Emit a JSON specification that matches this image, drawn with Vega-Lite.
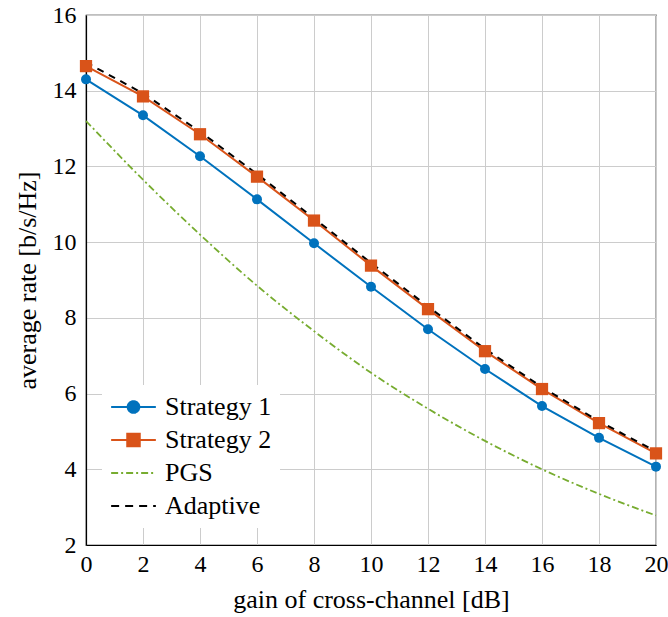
{
  "$schema": "https://vega.github.io/schema/vega-lite/v6.json",
  "width": 570,
  "height": 530,
  "autosize": "none",
  "padding": {"left": 86, "top": 15, "right": 12, "bottom": 72},
  "background": "white",
  "config": {
    "view": {"stroke": "black", "strokeWidth": 1.2},
    "font": "Liberation Serif",
    "axis": {
      "labelFont": "Liberation Serif",
      "titleFont": "Liberation Serif",
      "labelFontSize": 24,
      "titleFontSize": 26,
      "titleFontWeight": "normal",
      "labelColor": "black",
      "titleColor": "black",
      "gridColor": "#cccccc",
      "gridWidth": 1,
      "domainColor": "black",
      "domainWidth": 1.2,
      "ticks": false
    },
    "legend": {
      "labelFont": "Liberation Serif",
      "labelFontSize": 26,
      "labelColor": "black"
    }
  },
  "data": {
    "values": [
      {"x": 0, "y": 14.3, "series": "Strategy 1"},
      {"x": 2, "y": 13.35, "series": "Strategy 1"},
      {"x": 4, "y": 12.27, "series": "Strategy 1"},
      {"x": 6, "y": 11.13, "series": "Strategy 1"},
      {"x": 8, "y": 9.97, "series": "Strategy 1"},
      {"x": 10, "y": 8.82, "series": "Strategy 1"},
      {"x": 12, "y": 7.7, "series": "Strategy 1"},
      {"x": 14, "y": 6.65, "series": "Strategy 1"},
      {"x": 16, "y": 5.67, "series": "Strategy 1"},
      {"x": 18, "y": 4.83, "series": "Strategy 1"},
      {"x": 20, "y": 4.07, "series": "Strategy 1"},
      {"x": 0, "y": 14.65, "series": "Strategy 2"},
      {"x": 2, "y": 13.85, "series": "Strategy 2"},
      {"x": 4, "y": 12.85, "series": "Strategy 2"},
      {"x": 6, "y": 11.73, "series": "Strategy 2"},
      {"x": 8, "y": 10.57, "series": "Strategy 2"},
      {"x": 10, "y": 9.38, "series": "Strategy 2"},
      {"x": 12, "y": 8.23, "series": "Strategy 2"},
      {"x": 14, "y": 7.12, "series": "Strategy 2"},
      {"x": 16, "y": 6.12, "series": "Strategy 2"},
      {"x": 18, "y": 5.22, "series": "Strategy 2"},
      {"x": 20, "y": 4.42, "series": "Strategy 2"},
      {"x": 0, "y": 13.2, "series": "PGS"},
      {"x": 2, "y": 11.65, "series": "PGS"},
      {"x": 4, "y": 10.2, "series": "PGS"},
      {"x": 6, "y": 8.85, "series": "PGS"},
      {"x": 8, "y": 7.65, "series": "PGS"},
      {"x": 10, "y": 6.55, "series": "PGS"},
      {"x": 12, "y": 5.6, "series": "PGS"},
      {"x": 14, "y": 4.75, "series": "PGS"},
      {"x": 16, "y": 4.0, "series": "PGS"},
      {"x": 18, "y": 3.35, "series": "PGS"},
      {"x": 20, "y": 2.78, "series": "PGS"},
      {"x": 0, "y": 14.75, "series": "Adaptive"},
      {"x": 2, "y": 13.93, "series": "Adaptive"},
      {"x": 4, "y": 12.92, "series": "Adaptive"},
      {"x": 6, "y": 11.8, "series": "Adaptive"},
      {"x": 8, "y": 10.63, "series": "Adaptive"},
      {"x": 10, "y": 9.45, "series": "Adaptive"},
      {"x": 12, "y": 8.3, "series": "Adaptive"},
      {"x": 14, "y": 7.18, "series": "Adaptive"},
      {"x": 16, "y": 6.17, "series": "Adaptive"},
      {"x": 18, "y": 5.27, "series": "Adaptive"},
      {"x": 20, "y": 4.47, "series": "Adaptive"}
    ]
  },
  "encoding": {
    "x": {
      "field": "x", "type": "quantitative",
      "scale": {"domain": [0, 20], "nice": false, "zero": false},
      "axis": {"values": [0, 2, 4, 6, 8, 10, 12, 14, 16, 18, 20], "title": "gain of cross-channel [dB]", "labelPadding": 7, "titlePadding": 10, "labelFlush": false}
    },
    "y": {
      "field": "y", "type": "quantitative",
      "scale": {"domain": [2, 16], "nice": false, "zero": false},
      "axis": {"values": [2, 4, 6, 8, 10, 12, 14, 16], "title": "average rate [b/s/Hz]", "labelPadding": 10, "titlePadding": 12, "labelFlush": false}
    },
    "color": {
      "field": "series", "type": "nominal",
      "scale": {"domain": ["Strategy 1", "Strategy 2", "PGS", "Adaptive"], "range": ["#0072BD", "#D95319", "#77AC30", "#000000"]},
      "legend": {
        "title": null,
        "orient": "none",
        "legendX": 16,
        "legendY": 370,
        "fillColor": "white",
        "padding": 8,
        "labelFont": "Liberation Serif",
        "labelFontSize": 26,
        "labelColor": "black",
        "labelOffset": 8,
        "symbolSize": 2000,
        "symbolStrokeWidth": 2,
        "clipHeight": 28,
        "rowPadding": 5,
        "encode": {
          "symbols": {
            "update": {
              "shape": {"signal": "datum.value === 'Strategy 1' ? 'M-1,0H1M0.26,0A0.26,0.26 0 1,1 -0.26,0A0.26,0.26 0 1,1 0.26,0Z' : datum.value === 'Strategy 2' ? 'M-1,0H1M-0.28,-0.28H0.28V0.28H-0.28Z' : 'M-1,0H1'"},
              "fill": {"signal": "datum.value === 'Strategy 1' ? '#0072BD' : datum.value === 'Strategy 2' ? '#D95319' : 'transparent'"},
              "stroke": {"signal": "datum.value === 'Strategy 1' ? '#0072BD' : datum.value === 'Strategy 2' ? '#D95319' : datum.value === 'PGS' ? '#77AC30' : '#000000'"},
              "strokeDash": {"signal": "datum.value === 'PGS' ? [7,3,2,3] : datum.value === 'Adaptive' ? [8,6] : [1,0]"},
              "strokeWidth": {"value": 2},
              "opacity": {"value": 1}
            }
          }
        }
      }
    }
  },
  "layer": [
    {
      "transform": [{"filter": "datum.series === 'PGS'"}],
      "mark": {"type": "line", "interpolate": "monotone", "strokeWidth": 1.8, "strokeDash": [7, 3, 2, 3]},
      "encoding": {}
    },
    {
      "transform": [{"filter": "datum.series === 'Strategy 1' || datum.series === 'Strategy 2'"}],
      "mark": {"type": "line", "strokeWidth": 2},
      "encoding": {}
    },
    {
      "transform": [{"filter": "datum.series === 'Adaptive'"}],
      "mark": {"type": "line", "strokeWidth": 2, "strokeDash": [7, 6]},
      "encoding": {}
    },
    {
      "transform": [{"filter": "datum.series === 'Strategy 1'"}],
      "mark": {"type": "point", "shape": "circle", "filled": true, "size": 100, "opacity": 1},
      "encoding": {}
    },
    {
      "transform": [{"filter": "datum.series === 'Strategy 2'"}],
      "mark": {"type": "point", "shape": "square", "filled": true, "size": 150, "opacity": 1},
      "encoding": {}
    }
  ]
}
